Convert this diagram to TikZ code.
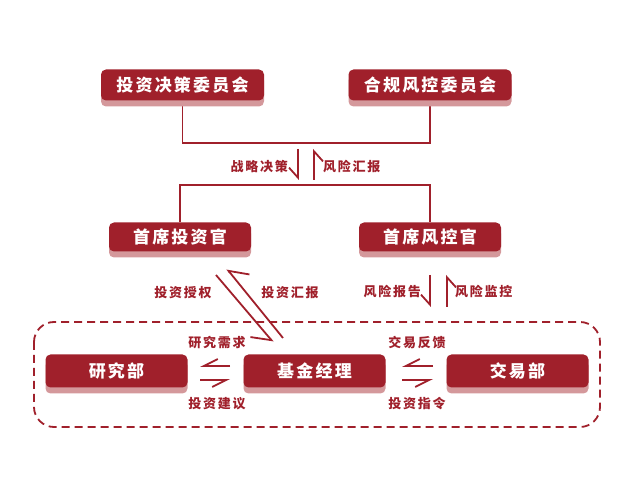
\documentclass[tikz,border=0pt]{standalone}
\usepackage{fontspec}
\setmainfont{Noto Sans CJK SC}
\newfontfamily\boxfont[LetterSpace=13]{Noto Sans CJK SC}
\newfontfamily\tagfont[LetterSpace=13]{Noto Sans CJK SC}
\usetikzlibrary{arrows.meta, backgrounds}
\definecolor{boxred}{RGB}{160,32,43}
\definecolor{shadered}{RGB}{212,152,155}

\begin{document}
\begin{tikzpicture}[x=1pt, y=-1pt,
  unit/.style={fill=boxred, rounded corners=5pt, text=white,
    font=\boxfont\bfseries\fontsize{17}{17}\selectfont, minimum height=31pt,
    minimum width=142pt, inner sep=0pt,
    preaction={fill=shadered, transform canvas={yshift=-6pt}}},
  tag/.style={text=boxred, font=\tagfont\bfseries\fontsize{13}{13}\selectfont,
    inner sep=0pt},
  conn/.style={draw=boxred, line width=1.5pt},
  harp/.style={draw=boxred, line width=1.8pt,
    -{Straight Barb[right, length=10pt, width=18pt, line width=1.8pt]}}]

\useasboundingbox (0,0) rectangle (625,502);

% --- Committees ---
\node[unit, minimum width=163pt] (invc) at (182.5,85) {投资决策委员会};
\node[unit, minimum width=163pt] (riskc) at (430,85) {合规风控委员会};

% --- Chief officers ---
\node[unit, minimum height=29pt] (cio) at (180,237) {首席投资官};
\node[unit, minimum height=29pt] (cro) at (430,237) {首席风控官};

% --- Team inside the dashed frame ---
\draw[boxred, line width=1.8pt, dash pattern=on 8pt off 5pt, rounded corners=20pt]
  (34,322) rectangle (600,427);
\node[unit, minimum height=33pt] (res) at (116.5,371) {研究部};
\node[unit, minimum height=33pt] (fm) at (314.5,371) {基金经理};
\node[unit, minimum height=33pt] (trd) at (517.5,371) {交易部};

% Joining lines
\coordinate (topbar) at (306,143);
\coordinate (midbar) at (306,185);
\begin{scope}[on background layer]
  \draw[conn] (invc.south) |- (topbar) -| (riskc.south);
  \draw[conn] (cio.north) |- (midbar) -| (cro.north);
\end{scope}

% Committees <-> officers
\coordinate (d1a) at (298,149); \coordinate (d1b) at (298,180);
\coordinate (u1a) at (314,180); \coordinate (u1b) at (314,149);
\draw[harp] (d1a) -- (d1b);
\draw[harp] (u1a) -- (u1b);
\node[tag, anchor=east] (strat) at (288,167) {战略决策};
\node[tag, anchor=west] (rrep) at (323,167) {风险汇报};

% CIO <-> fund manager
\coordinate (g1a) at (216,275); \coordinate (g1b) at (273,342);
\coordinate (g2a) at (283,338); \coordinate (g2b) at (227,269);
\draw[harp, -{Straight Barb[right, length=16pt, width=28pt, line width=1.8pt]}] (g1a) -- (g1b);
\draw[harp, -{Straight Barb[right, length=16pt, width=28pt, line width=1.8pt]}] (g2a) -- (g2b);
\node[tag] (auth) at (183,293) {投资授权};
\node[tag] (irep) at (290,293) {投资汇报};

% CRO <-> team
\coordinate (d2a) at (430,275); \coordinate (d2b) at (430,307);
\coordinate (u2a) at (447,307); \coordinate (u2b) at (447,275);
\draw[harp] (d2a) -- (d2b);
\draw[harp] (u2a) -- (u2b);
\node[tag, anchor=east] (rrpt) at (421,292) {风险报告};
\node[tag, anchor=west] (rmon) at (455,292) {风险监控};

% Research <-> fund manager
\coordinate (r1a) at (230,366); \coordinate (r1b) at (200,366);
\coordinate (r2a) at (200,380); \coordinate (r2b) at (230,380);
\draw[harp, -{Straight Barb[right, length=14pt, width=14pt, line width=1.8pt]}] (r1a) -- (r1b);
\draw[harp, -{Straight Barb[right, length=14pt, width=14pt, line width=1.8pt]}] (r2a) -- (r2b);
\node[tag] (need) at (217,343) {研究需求};
\node[tag] (advice) at (217,404) {投资建议};

% Fund manager <-> trading
\coordinate (t1a) at (433,366); \coordinate (t1b) at (402,366);
\coordinate (t2a) at (402,380); \coordinate (t2b) at (433,380);
\draw[harp, -{Straight Barb[right, length=14pt, width=14pt, line width=1.8pt]}] (t1a) -- (t1b);
\draw[harp, -{Straight Barb[right, length=14pt, width=14pt, line width=1.8pt]}] (t2a) -- (t2b);
\node[tag] (fback) at (417,343) {交易反馈};
\node[tag] (order) at (417,404) {投资指令};

\end{tikzpicture}
\end{document}
